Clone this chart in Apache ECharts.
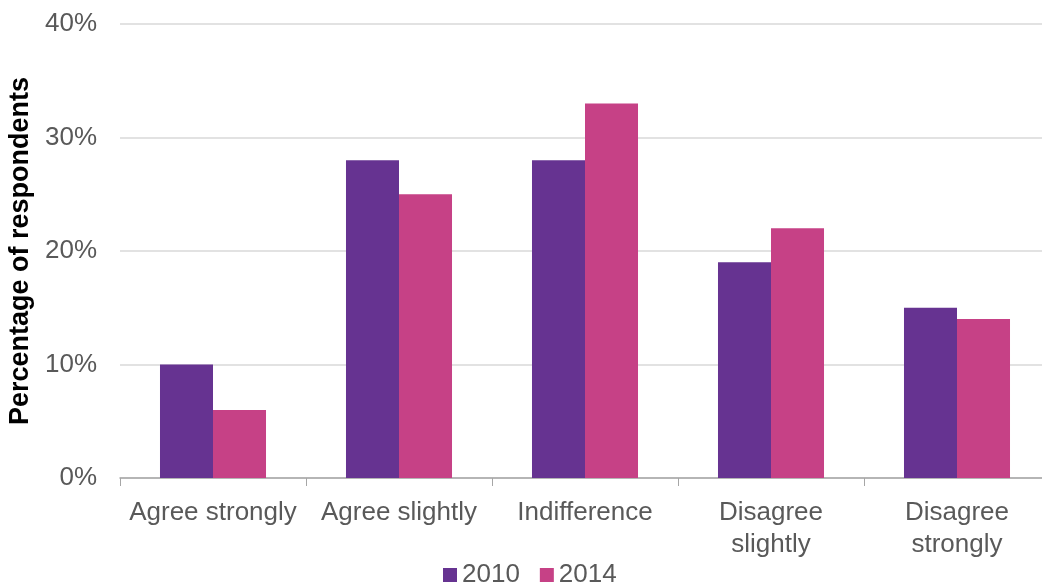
<!DOCTYPE html>
<html>
<head>
<meta charset="utf-8">
<script src="https://cdn.jsdelivr.net/npm/echarts@6/dist/echarts.min.js"></script>
<style>html,body{margin:0;padding:0;background:#fff;}#c{width:1042px;height:588px;}</style>
</head>
<body>
<div id="c"></div>
<script>
const categories = ['Agree strongly', 'Agree slightly', 'Indifference', 'Disagree\nslightly', 'Disagree\nstrongly'];
const values2010 = [10, 28, 28, 19, 15];
const values2014 = [6, 25, 33, 22, 14];
const seriesNames = ['2010', '2014'];

const chart = echarts.init(document.getElementById('c'));
chart.setOption({
  animation: false,
  textStyle: { fontFamily: 'Liberation Sans, Arial, sans-serif' },
  legend: {
    bottom: -5,
    left: 438,
    itemWidth: 14,
    itemHeight: 14,
    itemGap: 20,
    icon: 'rect',
    textStyle: { fontSize: 26, color: '#595959', fontFamily: 'Liberation Sans, Arial, sans-serif' },
    data: seriesNames
  },
  grid: { left: 120, top: 24, width: 930, height: 454, containLabel: false, outerBoundsMode: 'none' },
  xAxis: {
    type: 'category',
    data: categories,
    axisLine: { lineStyle: { color: '#a6a6a6', width: 1.5 } },
    axisTick: { show: true, length: 8, lineStyle: { color: '#a6a6a6' } },
    axisLabel: { fontSize: 26, color: '#595959', margin: 19, lineHeight: 32, interval: 0 }
  },
  yAxis: {
    type: 'value',
    min: 0, max: 40, interval: 10,
    name: 'Percentage of respondents',
    nameLocation: 'middle',
    nameGap: 84,
    nameTextStyle: { fontSize: 27, fontWeight: 'bold', color: '#000' },
    axisLine: { show: false },
    axisTick: { show: false },
    splitLine: { lineStyle: { color: '#d9d9d9', width: 1.5 } },
    axisLabel: { fontSize: 26, color: '#595959', margin: 23, formatter: '{value}%' }
  },
  series: [
    { name: seriesNames[0], type: 'bar', data: values2010, itemStyle: { color: '#663391' }, barGap: '0%', barCategoryGap: '43%' },
    { name: seriesNames[1], type: 'bar', data: values2014, itemStyle: { color: '#c64186' }, barGap: '0%', barCategoryGap: '43%' }
  ]
});
</script>
</body>
</html>
